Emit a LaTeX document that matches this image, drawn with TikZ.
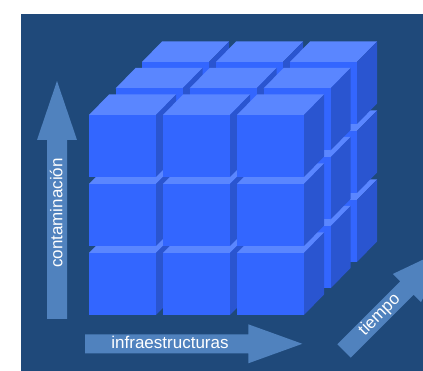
\documentclass[tikz,border=0pt]{standalone}
\usepackage{fontspec}
\setmainfont{Liberation Sans}
\definecolor{bg}{RGB}{31,73,122}
\definecolor{cfront}{RGB}{51,102,255}
\definecolor{ctop}{RGB}{90,134,255}
\definecolor{cside}{RGB}{42,85,208}
\definecolor{arr}{RGB}{80,130,190}
\tikzset{
  arrowshape/.style={fill=arr},
  axislabel/.style={text=white,inner sep=0pt,font=\fontsize{17}{17}\selectfont},
}
\begin{document}
\begin{tikzpicture}[x=1pt,y=1pt]
\useasboundingbox (0,0) rectangle (423,371);
\clip (0,0) rectangle (423,371);
\fill[white] (0,0) rectangle (423,371);
\fill[bg] (21,0) rectangle (423,357);
% cubes: back layer first, bottom rows first, left columns first
\foreach \k in {2,1,0}{
  \foreach \j in {2,1,0}{
    \foreach \i in {0,1,2}{
      \pgfmathsetmacro\cx{89+74*\i+26.5*\k}
      \pgfmathsetmacro\cy{256-69*\j+26.5*\k}
      \fill[ctop] (\cx,\cy) -- ++(20,20.5) -- ++(67,0) -- ++(-20,-20.5) -- cycle;
      \fill[cside] (\cx+67,\cy) -- ++(20,20.5) -- ++(0,-62) -- ++(-20,-20.5) -- cycle;
      \fill[cfront] (\cx,\cy) rectangle ++(67,-62);
    }
  }
}
% vertical arrow
\fill[arrowshape] (47,52) -- (67,52) -- (67,231) -- (77,231) -- (57,290) -- (37,231) -- (47,231) -- cycle;
% horizontal arrow
\fill[arrowshape] (85,17.7) -- (248.3,17.7) -- (248.3,7.7) -- (302.3,27.2) -- (248.3,46.7) -- (248.3,36.7) -- (85,36.7) -- cycle;
% diagonal arrow
\fill[arrowshape] (350.7,13.3) -- (413.6,76.2) -- (421.0,68.8) -- (446.5,122.5) -- (392.8,97.0) -- (400.2,89.6) -- (337.3,26.7) -- cycle;
% labels
\node[axislabel,anchor=base,rotate=90] (cont) at (62.3,158) {contaminación};
\node[axislabel,anchor=base] (infra) at (170,22.7) {infraestructuras};
\node[axislabel,anchor=center,rotate=45] (tiempo) at (379.7,56) {tiempo};
\end{tikzpicture}
\end{document}
